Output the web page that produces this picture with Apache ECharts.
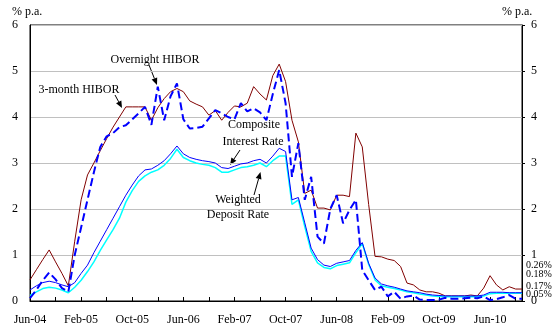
<!DOCTYPE html>
<html>
<head>
<meta charset="utf-8">
<script src="https://cdn.jsdelivr.net/npm/echarts@6/dist/echarts.min.js"></script>
<style>html,body{margin:0;padding:0;background:#fff;}#c{width:554px;height:332px;}</style>
</head>
<body>
<div id="c"></div>
<script>
var categories = [
 'Jun-04','Jul-04','Aug-04','Sep-04','Oct-04','Nov-04','Dec-04',
 'Jan-05','Feb-05','Mar-05','Apr-05','May-05','Jun-05','Jul-05','Aug-05','Sep-05','Oct-05','Nov-05','Dec-05',
 'Jan-06','Feb-06','Mar-06','Apr-06','May-06','Jun-06','Jul-06','Aug-06','Sep-06','Oct-06','Nov-06','Dec-06',
 'Jan-07','Feb-07','Mar-07','Apr-07','May-07','Jun-07','Jul-07','Aug-07','Sep-07','Oct-07','Nov-07','Dec-07',
 'Jan-08','Feb-08','Mar-08','Apr-08','May-08','Jun-08','Jul-08','Aug-08','Sep-08','Oct-08','Nov-08','Dec-08',
 'Jan-09','Feb-09','Mar-09','Apr-09','May-09','Jun-09','Jul-09','Aug-09','Sep-09','Oct-09','Nov-09','Dec-09',
 'Jan-10','Feb-10','Mar-10','Apr-10','May-10','Jun-10','Jul-10','Aug-10','Sep-10','Oct-10','Nov-10'
];
var hibor3m = [
 0.46,0.68,0.90,1.11,0.85,0.60,0.33,
 1.30,2.20,2.74,3.00,3.27,3.53,3.78,4.00,4.22,4.22,4.22,4.22,
 3.93,4.20,4.40,4.55,4.62,4.55,4.35,4.28,4.22,4.04,4.14,3.93,
 4.10,4.24,4.22,4.30,4.66,4.50,4.37,4.90,5.15,4.77,3.93,3.46,
 2.34,2.41,2.02,2.02,1.98,2.30,2.30,2.27,3.65,3.35,2.10,0.97,
 0.96,0.91,0.88,0.75,0.39,0.35,0.24,0.20,0.20,0.17,0.11,0.11,
 0.11,0.11,0.13,0.11,0.28,0.55,0.35,0.24,0.31,0.26,0.26
];
var hiborON = [
 0.06,0.24,0.45,0.62,0.47,0.28,0.20,
 1.00,1.60,2.20,2.80,3.35,3.58,3.65,3.78,3.82,3.95,4.08,4.22,
 3.83,4.66,3.93,4.45,4.73,3.95,3.75,3.76,3.79,3.97,4.15,4.08,
 4.00,3.95,4.30,4.12,4.19,4.10,3.93,4.50,5.02,4.30,2.70,3.43,
 2.20,2.70,1.40,1.25,2.00,2.30,1.69,1.98,2.20,0.67,0.45,0.24,
 0.31,0.10,0.20,0.05,0.10,0.12,0.03,0.02,0.02,0.03,0.07,0.05,
 0.05,0.06,0.07,0.06,0.10,0.02,0.04,0.08,0.13,0.05,0.05
];
var composite = [
 0.24,0.33,0.40,0.43,0.40,0.35,0.31,
 0.40,0.60,0.78,1.05,1.30,1.55,1.80,2.05,2.30,2.52,2.72,2.85,
 2.87,2.95,3.05,3.20,3.37,3.20,3.12,3.08,3.05,3.03,3.00,2.90,
 2.88,2.93,2.98,3.00,3.05,3.08,3.00,3.15,3.32,3.25,2.20,2.25,
 1.70,1.15,0.90,0.78,0.75,0.82,0.85,0.88,1.10,1.27,0.82,0.50,
 0.37,0.33,0.30,0.26,0.22,0.20,0.18,0.15,0.13,0.12,0.11,0.11,
 0.11,0.11,0.11,0.11,0.13,0.19,0.19,0.19,0.18,0.18,0.18
];
var deposit = [
 0.12,0.20,0.27,0.30,0.28,0.24,0.18,
 0.30,0.45,0.64,0.85,1.10,1.33,1.55,1.80,2.15,2.40,2.60,2.72,
 2.80,2.85,2.95,3.10,3.30,3.12,3.05,3.00,2.97,2.95,2.90,2.80,
 2.80,2.85,2.90,2.92,2.95,3.00,2.92,3.05,3.15,3.15,2.10,2.20,
 1.62,1.08,0.83,0.73,0.70,0.77,0.80,0.83,1.05,1.25,0.80,0.46,
 0.33,0.30,0.27,0.24,0.20,0.18,0.15,0.13,0.11,0.10,0.09,0.09,
 0.09,0.09,0.09,0.09,0.11,0.16,0.17,0.17,0.17,0.17,0.17
];
var yTicks = [0,1,2,3,4,5,6];
var lastLabels = ['0.26%','0.18%','0.17%','0.05%'];

var FONT = "'Liberation Serif','Times New Roman',serif";

function arrow(x1,y1,x2,y2){
  var dx=x2-x1, dy=y2-y1, L=Math.sqrt(dx*dx+dy*dy), ux=dx/L, uy=dy/L;
  var hl=7, hw=3;
  var bx=x2-ux*hl, by=y2-uy*hl;
  return [
    {type:'line', shape:{x1:x1,y1:y1,x2:bx,y2:by}, style:{stroke:'#000',lineWidth:1}},
    {type:'polygon', shape:{points:[[x2,y2],[bx-uy*hw,by+ux*hw],[bx+uy*hw,by-ux*hw]]}, style:{fill:'#000'}}
  ];
}
function txt(x,y,s,align,size){
  return {type:'text', x:x, y:y, style:{text:s, font:(size||12)+'px '+FONT, fill:'#000', align:align||'center', verticalAlign:'middle'}};
}

var graphics = [
  txt(12,12,'% p.a.','left'),
  txt(502,12,'% p.a.','left'),
  txt(155,60,'Overnight HIBOR'),
  txt(79,90,'3-month HIBOR'),
  txt(254,125,'Composite'),
  txt(253,142,'Interest Rate'),
  txt(238,200,'Weighted'),
  txt(238,215,'Deposit Rate'),
  txt(526,265,lastLabels[0],'left',10),
  txt(526,274,lastLabels[1],'left',10),
  txt(526,286,lastLabels[2],'left',10),
  txt(526,294,lastLabels[3],'left',10)
].concat(arrow(149,65,157,85), arrow(115,95,122,108), arrow(240,150,230,165), arrow(254,195,260.5,172));

var chart = echarts.init(document.getElementById('c'), null, {renderer:'canvas'});
var yAxisBase = {
  type:'value', min:yTicks[0], max:yTicks[yTicks.length-1], interval:1,
  axisLine:{show:true, lineStyle:{color:'#000'}},
  axisLabel:{fontFamily:FONT, fontSize:12, color:'#000'},
  splitLine:{show:false}
};
chart.setOption({
  animation:false,
  grid:{left:30, right:32, top:25, bottom:31, show:true, borderColor:'#000', borderWidth:1, containLabel:false},
  xAxis:{
    type:'category', data:categories, boundaryGap:false,
    axisLine:{lineStyle:{color:'#000'}},
    axisTick:{inside:true, length:4, interval:3, lineStyle:{color:'#000'}},
    axisLabel:{interval:7, fontFamily:FONT, fontSize:12, color:'#000', margin:13}
  },
  yAxis:[
    Object.assign({}, yAxisBase, {position:'left', axisTick:{show:false}, axisLabel:Object.assign({}, yAxisBase.axisLabel,{margin:12}),
      splitLine:{show:true, lineStyle:{color:'#c0c0c0', width:1}}}),
    Object.assign({}, yAxisBase, {position:'right', axisTick:{show:true, length:3, lineStyle:{color:'#000'}}, axisLabel:Object.assign({}, yAxisBase.axisLabel,{margin:9})})
  ],
  series:[
    {name:'3-month HIBOR', type:'line', data:hibor3m, symbol:'none', lineStyle:{color:'#800000', width:1}, z:2},
    {name:'Weighted Deposit Rate', type:'line', data:deposit, symbol:'none', lineStyle:{color:'#00ffff', width:1.5}, z:3},
    {name:'Composite Interest Rate', type:'line', data:composite, symbol:'none', lineStyle:{color:'#0000ff', width:1}, z:4},
    {name:'Overnight HIBOR', type:'line', data:hiborON, symbol:'none', lineStyle:{color:'#0000ff', width:2, type:[8,4]}, z:5}
  ],
  graphic:graphics
});
</script>
</body>
</html>
